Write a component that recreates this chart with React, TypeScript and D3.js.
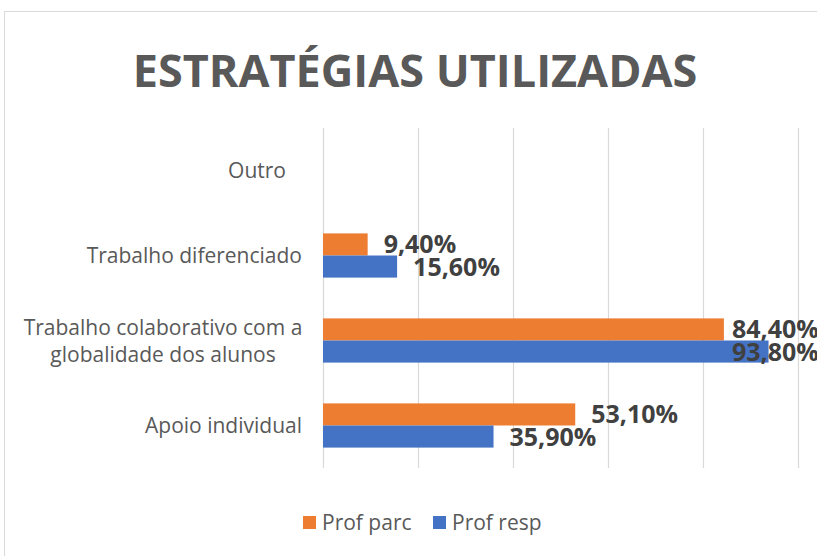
import { useEffect, useRef } from 'react'
import * as d3 from 'd3'

const categories = ['Outro', 'Trabalho diferenciado', 'Trabalho colaborativo com a globalidade dos alunos', 'Apoio individual']
const categoryLines: string[][] = [
  ['Outro'],
  ['Trabalho diferenciado'],
  ['Trabalho colaborativo com a', 'globalidade dos alunos'],
  ['Apoio individual'],
]
const profParc: (number | null)[] = [null, 9.4, 84.4, 53.1]
const profResp: (number | null)[] = [null, 15.6, 93.8, 35.9]
const seriesNames = ['Prof parc', 'Prof resp']
const seriesColors = ['#ED7D31', '#4472C4']
const xTicks = [0, 20, 40, 60, 80, 100]

const W = 817
const H = 556
const FONT = '"Open Sans", sans-serif'

export default function App() {
  const svgRef = useRef<SVGSVGElement | null>(null)

  useEffect(() => {
    const svgElement = svgRef.current
    if (!svgElement) return
    const svg = d3.select(svgElement)
    svg.selectAll('*').remove()

    svg.append('rect').attr('width', W).attr('height', H).attr('fill', '#fff')
    // chart frame (cropped on right and bottom)
    svg
      .append('rect')
      .attr('x', 4.5)
      .attr('y', 11.5)
      .attr('width', W + 20)
      .attr('height', H + 20)
      .attr('fill', '#fff')
      .attr('stroke', '#D9D9D9')

    svg
      .append('text')
      .attr('x', 415)
      .attr('y', 87)
      .attr('text-anchor', 'middle')
      .attr('font-family', FONT)
      .attr('font-weight', 700)
      .attr('font-size', 45)
      .attr('fill', '#595959')
      .text('ESTRATÉGIAS UTILIZADAS')

    const plot = { left: 323, right: 798, top: 128, bottom: 468 }

    const x = d3.scaleLinear().domain([0, 100]).range([plot.left, plot.right])
    const y = d3.scaleBand<string>().domain(categories).range([plot.top, plot.bottom]).paddingInner(0.48).paddingOuter(0.24)
    const inner = d3.scaleBand<string>().domain(seriesNames).range([0, y.bandwidth()])

    const g = svg.append('g')

    g.selectAll('line.grid')
      .data(xTicks)
      .join('line')
      .attr('x1', (d) => Math.round(x(d)) + 0.5)
      .attr('x2', (d) => Math.round(x(d)) + 0.5)
      .attr('y1', plot.top)
      .attr('y2', plot.bottom)
      .attr('stroke', '#D9D9D9')
      .attr('stroke-width', 1.2)

    const series = [profParc, profResp]
    series.forEach((vals, si) => {
      const name = seriesNames[si]
      const rows = categories
        .map((c, i) => ({ c, v: vals[i] }))
        .filter((d) => d.v !== null) as { c: string; v: number }[]

      g.selectAll(`rect.s${si}`)
        .data(rows)
        .join('rect')
        .attr('x', x(0))
        .attr('y', (d) => (y(d.c) ?? 0) + (inner(name) ?? 0))
        .attr('width', (d) => x(d.v) - x(0))
        .attr('height', inner.bandwidth())
        .attr('fill', seriesColors[si])

      g.selectAll(`text.l${si}`)
        .data(rows)
        .join('text')
        .attr('x', (d) => Math.min(x(d.v) + 16, 732))
        .attr('y', (d) => (y(d.c) ?? 0) + (inner(name) ?? 0) + inner.bandwidth() / 2)
        .attr('dy', '0.36em')
        .attr('font-family', FONT)
        .attr('font-weight', 700)
        .attr('font-size', 25)
        .attr('fill', '#404040')
        .text((d) => d.v.toFixed(2).replace('.', ',') + '%')
    })

    // category labels
    const lineH = 27
    categories.forEach((c, i) => {
      const lines = categoryLines[i]
      const cy = (y(c) ?? 0) + y.bandwidth() / 2
      const t = g
        .append('text')
        .attr('font-family', FONT)
        .attr('font-size', 21)
        .attr('fill', '#595959')
        .attr('text-anchor', lines.length > 1 ? 'middle' : 'end')
      lines.forEach((ln, li) => {
        t.append('tspan')
          .attr('x', lines.length > 1 ? 163 : c === 'Outro' ? 286 : 302)
          .attr('y', cy + (li - (lines.length - 1) / 2) * lineH)
          .attr('dy', '0.36em')
          .text(ln)
      })
    })

    // legend
    const legend = svg.append('g').attr('transform', 'translate(303,522)')
    const offsets = [0, 130]
    seriesNames.forEach((n, i) => {
      const lg = legend.append('g').attr('transform', `translate(${offsets[i]},0)`)
      lg.append('rect').attr('x', 0).attr('y', -6).attr('width', 13).attr('height', 13).attr('fill', seriesColors[i])
      lg.append('text')
        .attr('x', 19)
        .attr('y', 0)
        .attr('dy', '0.36em')
        .attr('font-family', FONT)
        .attr('font-size', 21)
        .attr('fill', '#595959')
        .text(n)
    })
  }, [])

  return (
    <svg
      ref={svgRef}
      width={W}
      height={H}
      style={{ position: 'absolute', left: 0, top: 0, display: 'block' }}
    />
  )
}
